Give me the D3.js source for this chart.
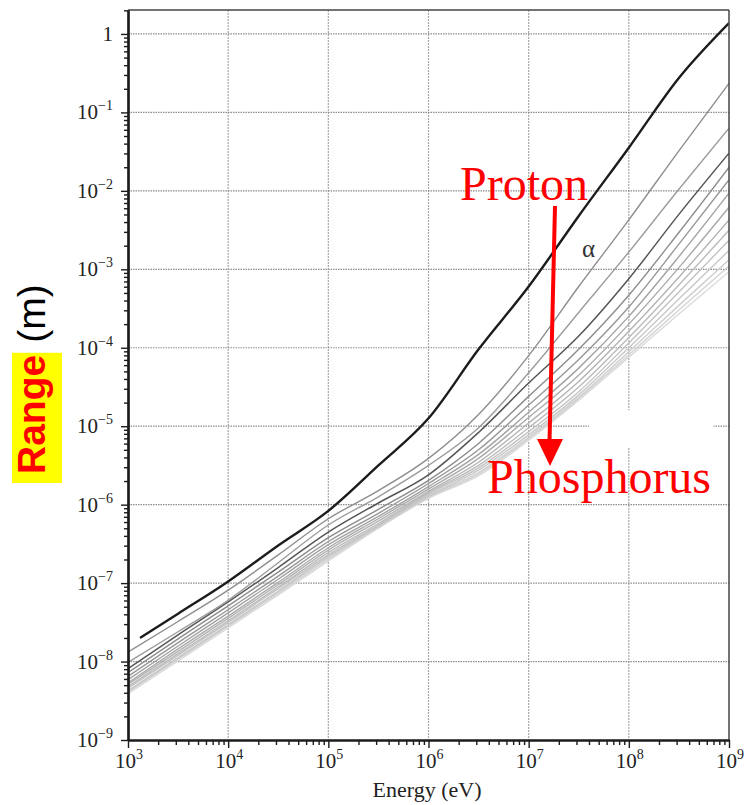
<!DOCTYPE html>
<html>
<head>
<meta charset="utf-8">
<script src="https://cdn.jsdelivr.net/npm/d3@7"></script>
<style>
  body { margin: 0; background: #fff; }
  svg { display: block; }
</style>
</head>
<body>
<svg id="chart"></svg>
<script>
let energy = [1e3, 3.16e3, 1e4, 3.16e4, 1e5, 3.16e5, 1e6, 3.16e6, 1e7, 3.16e7, 1e8, 3.16e8, 1e9];
// the proton curve starts a little right of the axis
let energyProton = [1.32e3, 3.16e3, 1e4, 3.16e4, 1e5, 3.16e5, 1e6, 3.16e6, 1e7, 3.16e7, 1e8, 3.16e8, 1e9];

// range (m) for each ion, proton down to phosphorus
let rangeH  = [2.0e-8, 4.07e-8, 1.05e-7, 3.02e-7, 8.32e-7, 3.16e-6, 1.26e-5, 9.55e-5, 6.03e-4, 4.79e-3, 3.55e-2, 0.275, 1.38];
let rangeHe = [1.32e-8, 3.24e-8, 8.13e-8, 2.29e-7, 6.61e-7, 1.51e-6, 3.89e-6, 1.41e-5, 7.94e-5, 6.03e-4, 4.27e-3, 3.24e-2, 0.234];
let rangeLi = [9.77e-9, 2.40e-8, 6.03e-8, 1.82e-7, 5.50e-7, 1.26e-6, 3.16e-6, 9.55e-6, 4.79e-5, 2.82e-4, 1.66e-3, 1.05e-2, 6.31e-2];
let rangeBe = [8.13e-9, 2.19e-8, 5.75e-8, 1.58e-7, 4.47e-7, 1.05e-6, 2.40e-6, 8.32e-6, 3.55e-5, 1.41e-4, 7.59e-4, 5.01e-3, 3.02e-2];
let rangeB  = [7.24e-9, 1.95e-8, 5.13e-8, 1.38e-7, 3.80e-7, 8.71e-7, 2.04e-6, 6.03e-6, 2.40e-5, 9.55e-5, 4.68e-4, 2.95e-3, 2.0e-2];
let rangeC  = [6.46e-9, 1.74e-8, 4.57e-8, 1.23e-7, 3.39e-7, 7.76e-7, 1.86e-6, 5.01e-6, 1.86e-5, 7.08e-5, 3.31e-4, 2.09e-3, 1.38e-2];
let rangeN  = [5.89e-9, 1.58e-8, 4.17e-8, 1.12e-7, 3.09e-7, 7.08e-7, 1.70e-6, 4.37e-6, 1.51e-5, 5.50e-5, 2.51e-4, 1.45e-3, 9.33e-3];
let rangeO  = [5.37e-9, 1.45e-8, 3.80e-8, 1.02e-7, 2.82e-7, 6.61e-7, 1.58e-6, 3.89e-6, 1.29e-5, 4.47e-5, 2.0e-4, 1.05e-3, 6.17e-3];
let rangeF  = [5.13e-9, 1.35e-8, 3.55e-8, 9.55e-8, 2.63e-7, 6.17e-7, 1.48e-6, 3.47e-6, 1.10e-5, 3.72e-5, 1.62e-4, 7.94e-4, 4.27e-3];
let rangeNe = [4.79e-9, 1.26e-8, 3.31e-8, 8.91e-8, 2.45e-7, 5.75e-7, 1.41e-6, 3.16e-6, 9.55e-6, 3.16e-5, 1.35e-4, 6.31e-4, 3.16e-3];
let rangeNa = [4.57e-9, 1.20e-8, 3.16e-8, 8.51e-8, 2.29e-7, 5.50e-7, 1.35e-6, 2.95e-6, 8.51e-6, 2.75e-5, 1.15e-4, 5.13e-4, 2.34e-3];
let rangeMg = [4.27e-9, 1.12e-8, 2.95e-8, 7.94e-8, 2.19e-7, 5.37e-7, 1.29e-6, 2.75e-6, 7.76e-6, 2.51e-5, 1.0e-4, 4.17e-4, 1.74e-3];
let rangeAl = [4.17e-9, 1.10e-8, 2.88e-8, 7.76e-8, 2.09e-7, 5.25e-7, 1.26e-6, 2.57e-6, 7.24e-6, 2.34e-5, 8.91e-5, 3.47e-4, 1.32e-3];
let rangeSi = [4.07e-9, 1.07e-8, 2.82e-8, 7.41e-8, 2.0e-7, 5.13e-7, 1.23e-6, 2.45e-6, 6.92e-6, 2.24e-5, 8.13e-5, 3.02e-4, 1.10e-3];
let rangeP  = [3.89e-9, 1.02e-8, 2.69e-8, 7.08e-8, 1.91e-7, 5.01e-7, 1.20e-6, 2.34e-6, 6.61e-6, 2.14e-5, 7.59e-5, 2.69e-4, 9.33e-4];

let ions = ['H', 'He', 'Li', 'Be', 'B', 'C', 'N', 'O', 'F', 'Ne', 'Na', 'Mg', 'Al', 'Si', 'P'];
let ranges = [rangeH, rangeHe, rangeLi, rangeBe, rangeB, rangeC, rangeN, rangeO, rangeF, rangeNe, rangeNa, rangeMg, rangeAl, rangeSi, rangeP];

// tick values
let xTicks = [1e3, 1e4, 1e5, 1e6, 1e7, 1e8, 1e9];
let xExponents = ['3', '4', '5', '6', '7', '8', '9'];
let yTicks = [1e-9, 1e-8, 1e-7, 1e-6, 1e-5, 1e-4, 1e-3, 1e-2, 1e-1, 1];
let yExponents = ['\u22129', '\u22128', '\u22127', '\u22126', '\u22125', '\u22124', '\u22123', '\u22122', '\u22121', ''];

// line look, same order as the ions
let lineColor = ['#1c1c1c', '#8e8e8e', '#9c9c9c', '#555555', '#8c8c8c', '#979797', '#a2a2a2', '#aaaaaa',
  '#b3b3b3', '#bbbbbb', '#c2c2c2', '#c8c8c8', '#cecece', '#d4d4d4', '#dadada'];
let lineWidth = [2.4, 1.4, 1.4, 1.5, 1.4, 1.4, 1.4, 1.4, 1.4, 1.4, 1.4, 1.4, 1.4, 1.4, 1.4];

let serif = '"Liberation Serif", "DejaVu Serif", serif';

let width = 750,
  height = 805;
let mLeft = 128, mRight = 729, mTop = 10, mBottom = 740;

let x = d3.scaleLog().domain([1e3, 1e9]).range([mLeft, mRight]);
let y = d3.scaleLog().domain([1e-9, 2.02]).range([mBottom, mTop]);

let svg = d3.select('#chart')
  .attr('width', width)
  .attr('height', height)
  .style('font-family', serif);

// dotted grid at every decade
let grid = svg.append('g');
grid.selectAll('.vgrid')
  .data(xTicks.slice(1, -1))
  .enter()
  .append('line')
  .attr('x1', d => x(d)).attr('x2', d => x(d))
  .attr('y1', mTop).attr('y2', mBottom)
  .attr('stroke', '#a8a8a8')
  .attr('stroke-width', 1.2)
  .attr('stroke-dasharray', '2,1');
grid.selectAll('.hgrid')
  .data(yTicks.slice(1))
  .enter()
  .append('line')
  .attr('x1', mLeft).attr('x2', mRight)
  .attr('y1', d => y(d)).attr('y2', d => y(d))
  .attr('stroke', '#8c8c8c')
  .attr('stroke-width', 1.2)
  .attr('stroke-dasharray', '1.5,1');

// a blank patch in the scan where the grid line is missing
svg.append('rect')
  .attr('x', x(4e7)).attr('y', y(1.6e-5))
  .attr('width', x(7e8) - x(4e7)).attr('height', y(5.4e-6) - y(1.6e-5))
  .attr('fill', '#fff');

svg.append('clipPath').attr('id', 'clip')
  .append('rect')
  .attr('x', mLeft).attr('y', mTop)
  .attr('width', mRight - mLeft).attr('height', mBottom - mTop);

// one path per ion, lightest first so the dark ones sit on top
let line = d3.line()
  .x(d => x(d[0]))
  .y(d => y(d[1]))
  .curve(d3.curveMonotoneX);

let plot = svg.append('g').attr('clip-path', 'url(#clip)');
for (let i = ions.length - 1; i >= 0; i--) {
  let en = i === 0 ? energyProton : energy;
  let pts = en.map((e, k) => [e, ranges[i][k]]);
  plot.append('path')
    .datum(pts)
    .attr('d', line)
    .attr('fill', 'none')
    .attr('stroke', lineColor[i])
    .attr('stroke-width', lineWidth[i])
    .attr('stroke-linejoin', 'round');
}

// top and right edges of the frame
svg.append('line').attr('x1', mLeft).attr('x2', mRight).attr('y1', mTop).attr('y2', mTop)
  .attr('stroke', '#444').attr('stroke-width', 1.5);
svg.append('line').attr('x1', mRight).attr('x2', mRight).attr('y1', mTop).attr('y2', mBottom)
  .attr('stroke', '#444').attr('stroke-width', 1.5);

// minor ticks 2..9 in every decade
function minorTicks(scale) {
  let d = scale.domain();
  let out = [];
  for (let p = Math.floor(Math.log10(d[0])); p <= Math.ceil(Math.log10(d[1])); p++) {
    for (let m = 2; m <= 9; m++) {
      let v = m * Math.pow(10, p);
      if (v > d[0] && v < d[1]) out.push(v);
    }
  }
  return out;
}

function power(text, exp) {
  text.append('tspan').text(exp === '' ? '1' : '10');
  if (exp !== '') {
    text.append('tspan')
      .attr('font-size', 14)
      .attr('dy', -9)
      .text(exp);
  }
}

// y axis
let gy = svg.append('g').attr('transform', 'translate(' + mLeft + ',0)');
gy.call(d3.axisLeft(y).tickValues(minorTicks(y)).tickSize(4).tickSizeOuter(0).tickFormat(''));
gy.append('g').call(d3.axisLeft(y).tickValues(yTicks).tickSize(7).tickSizeOuter(0).tickFormat(''));
gy.selectAll('.domain').attr('stroke', '#1c1c1c').attr('stroke-width', 2.2);
gy.selectAll('.tick line').attr('stroke', '#1c1c1c').attr('stroke-width', 1.4);
gy.selectAll('.ylab')
  .data(yTicks)
  .enter()
  .append('text')
  .attr('x', -15)
  .attr('y', d => y(d) + 7)
  .attr('text-anchor', 'end')
  .style('font-family', serif)
  .attr('font-size', 21)
  .attr('fill', '#222')
  .each(function (d, i) { power(d3.select(this), yExponents[i]); });

// x axis
let gx = svg.append('g').attr('transform', 'translate(0,' + mBottom + ')');
gx.call(d3.axisBottom(x).tickValues(minorTicks(x)).tickSize(5).tickSizeOuter(0).tickFormat(''));
gx.append('g').call(d3.axisBottom(x).tickValues(xTicks).tickSize(8).tickSizeOuter(0).tickFormat(''));
gx.selectAll('.domain').attr('stroke', '#1c1c1c').attr('stroke-width', 2.2);
gx.selectAll('.tick line').attr('stroke', '#1c1c1c').attr('stroke-width', 1.4);
gx.selectAll('.xlab')
  .data(xTicks)
  .enter()
  .append('text')
  .attr('x', d => x(d) + 1)
  .attr('y', 28)
  .attr('text-anchor', 'middle')
  .style('font-family', serif)
  .attr('font-size', 21)
  .attr('fill', '#222')
  .each(function (d, i) { power(d3.select(this), xExponents[i]); });

svg.append('text')
  .attr('x', 427)
  .attr('y', 797)
  .attr('text-anchor', 'middle')
  .attr('font-size', 22)
  .attr('fill', '#222')
  .text('Energy (eV)');

// y title: "Range" on a yellow box, then "(m)"
let yt = svg.append('g').attr('transform', 'translate(45,474) rotate(-90)')
  .style('font-family', '"Liberation Sans", Arial, sans-serif')
  .attr('font-size', 39);
let box = yt.append('rect').attr('fill', '#ffff00');
let rangeText = yt.append('text')
  .attr('x', 0).attr('y', 0)
  .attr('font-weight', 'bold')
  .attr('fill', '#ff0000')
  .text('Range');
let bb = rangeText.node().getBBox();
box.attr('x', bb.x - 9).attr('y', -33)
  .attr('width', bb.width + 11).attr('height', 50);
yt.append('text')
  .attr('x', bb.x + bb.width + 12).attr('y', 0)
  .attr('fill', '#000')
  .text('(m)');

// annotations
svg.append('text')
  .attr('x', 582).attr('y', 257)
  .attr('font-size', 25)
  .attr('fill', '#333')
  .text('\u03b1');

svg.append('line')
  .attr('x1', 555).attr('y1', 206)
  .attr('x2', 549.5).attr('y2', 442)
  .attr('stroke', '#ff0000')
  .attr('stroke-width', 4);
svg.append('path')
  .attr('d', 'M537,439 L563,439 L550,466 Z')
  .attr('fill', '#ff0000');

svg.append('text')
  .attr('x', 460).attr('y', 200)
  .attr('font-size', 48)
  .attr('fill', '#ff0000')
  .text('Proton');
svg.append('text')
  .attr('x', 487).attr('y', 493)
  .attr('font-size', 48)
  .attr('fill', '#ff0000')
  .text('Phosphorus');
</script>
</body>
</html>
